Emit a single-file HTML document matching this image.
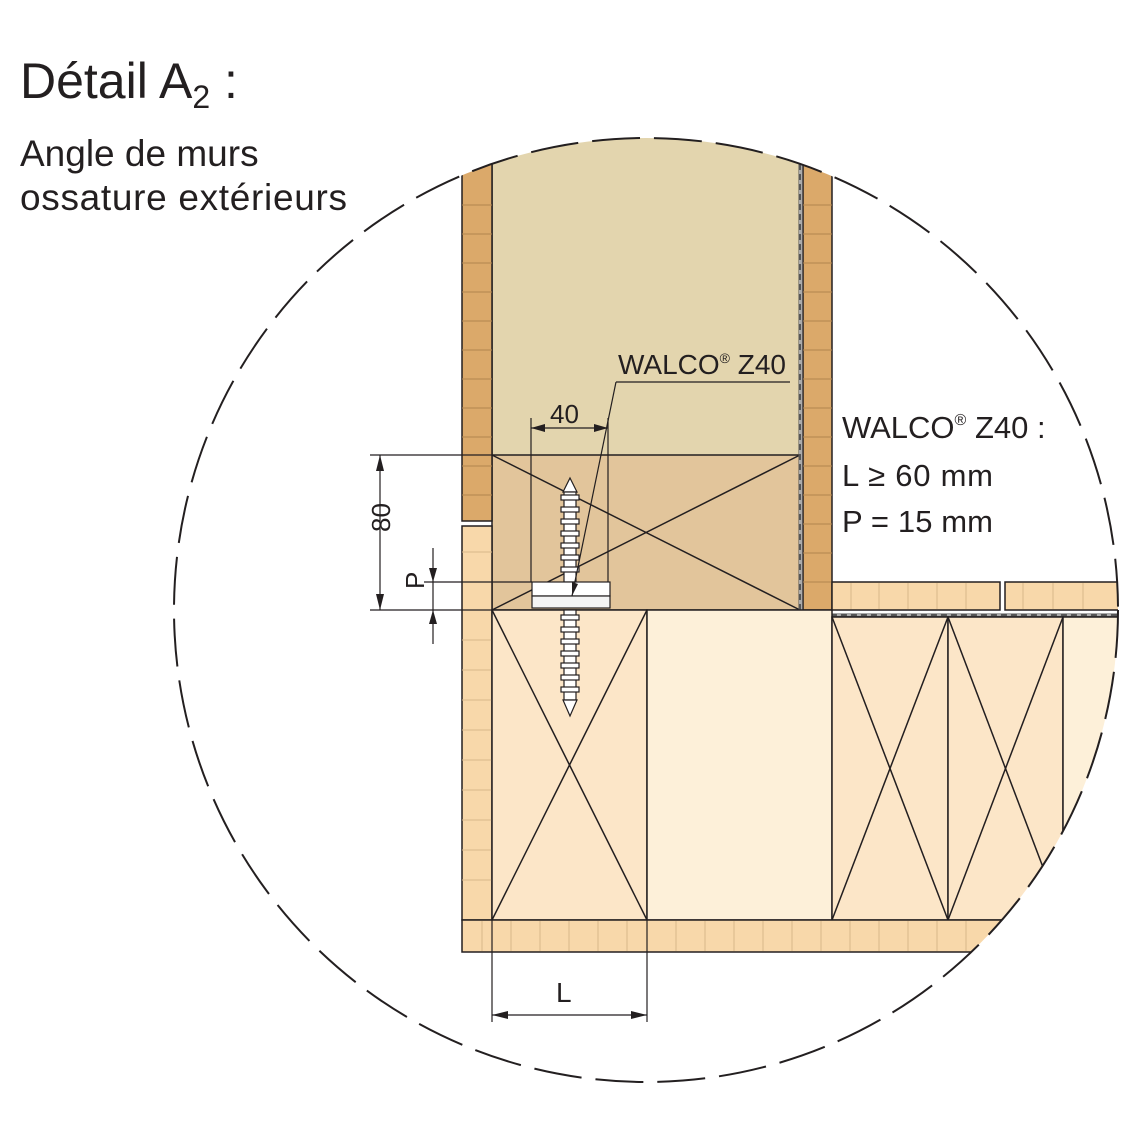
<!DOCTYPE html>
<html><head><meta charset="utf-8"><style>
html,body{margin:0;padding:0;background:#fff;}
svg{display:block;}
text{font-family:"Liberation Sans",sans-serif;fill:#231f20;}
</style></head><body>
<svg width="1140" height="1140" viewBox="0 0 1140 1140" xmlns="http://www.w3.org/2000/svg">
<defs>
<clipPath id="c"><circle cx="646" cy="610" r="472"/></clipPath>
</defs>
<text x="20" y="98" font-size="50">Détail A<tspan font-size="32" dy="10">2</tspan><tspan dy="-10"> :</tspan></text>
<text x="20" y="166" font-size="37">Angle de murs</text>
<text x="20" y="210" font-size="37" textLength="327">ossature extérieurs</text>

<g clip-path="url(#c)" stroke="#231f20" stroke-width="1.5">
<rect x="492" y="100" width="308" height="355" fill="#e3d5ae" stroke="none"/>
<rect x="492" y="455" width="308" height="155" fill="#e2c59b"/>
<line x1="492" y1="455" x2="800" y2="610"/>
<line x1="800" y1="455" x2="492" y2="610"/>
<line x1="492" y1="100" x2="492" y2="455"/>
<rect x="462" y="100" width="30" height="421" fill="#dba96a"/>
<g stroke="#b0854f" stroke-width="1">
<line x1="462" y1="205" x2="492" y2="205"/><line x1="462" y1="234" x2="492" y2="234"/><line x1="462" y1="263" x2="492" y2="263"/><line x1="462" y1="292" x2="492" y2="292"/><line x1="462" y1="321" x2="492" y2="321"/><line x1="462" y1="350" x2="492" y2="350"/><line x1="462" y1="379" x2="492" y2="379"/><line x1="462" y1="408" x2="492" y2="408"/><line x1="462" y1="437" x2="492" y2="437"/><line x1="462" y1="466" x2="492" y2="466"/><line x1="462" y1="495" x2="492" y2="495"/>
</g>
<rect x="462" y="526" width="30" height="394" fill="#f8d8aa"/>
<g stroke="#d9b88a" stroke-width="1">
<line x1="462" y1="552" x2="492" y2="552"/><line x1="462" y1="582" x2="492" y2="582"/><line x1="462" y1="640" x2="492" y2="640"/><line x1="462" y1="670" x2="492" y2="670"/><line x1="462" y1="700" x2="492" y2="700"/><line x1="462" y1="730" x2="492" y2="730"/><line x1="462" y1="760" x2="492" y2="760"/><line x1="462" y1="790" x2="492" y2="790"/><line x1="462" y1="820" x2="492" y2="820"/><line x1="462" y1="850" x2="492" y2="850"/><line x1="462" y1="880" x2="492" y2="880"/>
</g>
<rect x="803" y="100" width="29" height="510" fill="#dba96a"/>
<g stroke="#b0854f" stroke-width="1">
<line x1="803" y1="205" x2="832" y2="205"/><line x1="803" y1="234" x2="832" y2="234"/><line x1="803" y1="263" x2="832" y2="263"/><line x1="803" y1="292" x2="832" y2="292"/><line x1="803" y1="321" x2="832" y2="321"/><line x1="803" y1="350" x2="832" y2="350"/><line x1="803" y1="379" x2="832" y2="379"/><line x1="803" y1="408" x2="832" y2="408"/><line x1="803" y1="437" x2="832" y2="437"/><line x1="803" y1="466" x2="832" y2="466"/><line x1="803" y1="495" x2="832" y2="495"/><line x1="803" y1="524" x2="832" y2="524"/><line x1="803" y1="553" x2="832" y2="553"/><line x1="803" y1="582" x2="832" y2="582"/>
</g>
<path d="M800 100 V610 Q800 615 805 615 H1130" fill="none" stroke="#555" stroke-width="3"/>
<path d="M800 100 V610 Q800 615 805 615 H1130" fill="none" stroke="#fff" stroke-width="1" stroke-dasharray="4 6"/>
<rect x="492" y="610" width="155" height="310" fill="#fce6c8"/>
<line x1="492" y1="610" x2="647" y2="920"/><line x1="647" y1="610" x2="492" y2="920"/>
<rect x="647" y="610" width="185" height="310" fill="#fdf0d9"/>
<rect x="832" y="617" width="116" height="303" fill="#fce6c8"/>
<rect x="948" y="617" width="115" height="303" fill="#fce6c8"/>
<rect x="1063" y="617" width="80" height="303" fill="#fdf0d9"/>
<line x1="832" y1="617" x2="948" y2="920"/><line x1="948" y1="617" x2="832" y2="920"/>
<line x1="948" y1="617" x2="1063" y2="920"/><line x1="1063" y1="617" x2="948" y2="920"/>
<rect x="832" y="582" width="168" height="28" fill="#f8d8aa"/>
<rect x="1005" y="582" width="130" height="28" fill="#f8d8aa"/>
<g stroke="#d9b88a" stroke-width="1">
<line x1="851" y1="583" x2="851" y2="609"/><line x1="879" y1="583" x2="879" y2="609"/><line x1="908" y1="583" x2="908" y2="609"/><line x1="937" y1="583" x2="937" y2="609"/><line x1="966" y1="583" x2="966" y2="609"/><line x1="1023" y1="583" x2="1023" y2="609"/><line x1="1053" y1="583" x2="1053" y2="609"/><line x1="1083" y1="583" x2="1083" y2="609"/>
</g>
<rect x="462" y="920" width="700" height="32" fill="#f8d8aa"/>
<g stroke="#d9b88a" stroke-width="1">
<line x1="482" y1="921" x2="482" y2="951"/><line x1="511" y1="921" x2="511" y2="951"/><line x1="540" y1="921" x2="540" y2="951"/><line x1="569" y1="921" x2="569" y2="951"/><line x1="598" y1="921" x2="598" y2="951"/><line x1="627" y1="921" x2="627" y2="951"/><line x1="676" y1="921" x2="676" y2="951"/><line x1="705" y1="921" x2="705" y2="951"/><line x1="734" y1="921" x2="734" y2="951"/><line x1="763" y1="921" x2="763" y2="951"/><line x1="792" y1="921" x2="792" y2="951"/><line x1="821" y1="921" x2="821" y2="951"/><line x1="850" y1="921" x2="850" y2="951"/><line x1="879" y1="921" x2="879" y2="951"/><line x1="908" y1="921" x2="908" y2="951"/><line x1="937" y1="921" x2="937" y2="951"/><line x1="966" y1="921" x2="966" y2="951"/>
</g>
</g>
<circle cx="646" cy="610" r="472" fill="none" stroke="#231f20" stroke-width="2" stroke-dasharray="48 14"/>

<g stroke="#231f20" stroke-width="1.2">
<path d="M570 478 L577 492 L563 492 Z" fill="#fff"/>
<rect x="564" y="492" width="12" height="90" fill="#fff"/>
<g fill="#fff">
<rect x="561" y="495" width="18" height="5"/><rect x="561" y="507" width="18" height="5"/><rect x="561" y="519" width="18" height="5"/><rect x="561" y="531" width="18" height="5"/><rect x="561" y="543" width="18" height="5"/><rect x="561" y="555" width="18" height="5"/><rect x="561" y="567" width="18" height="5"/>
</g>
<rect x="532" y="582" width="78" height="14" fill="#fff"/>
<rect x="532" y="596" width="78" height="12" fill="#f4f4f4"/>
<rect x="564" y="610" width="12" height="90" fill="#fff"/>
<g fill="#fff">
<rect x="561" y="615" width="18" height="5"/><rect x="561" y="627" width="18" height="5"/><rect x="561" y="639" width="18" height="5"/><rect x="561" y="651" width="18" height="5"/><rect x="561" y="663" width="18" height="5"/><rect x="561" y="675" width="18" height="5"/><rect x="561" y="687" width="18" height="5"/>
</g>
<path d="M563 700 L577 700 L570 716 Z" fill="#fff"/>
</g>

<g stroke="#231f20" stroke-width="1.2" fill="none">
<line x1="370" y1="455" x2="492" y2="455"/>
<line x1="370" y1="610" x2="492" y2="610"/>
<line x1="380" y1="455" x2="380" y2="610"/>
<line x1="424" y1="582" x2="532" y2="582"/>
<line x1="433" y1="548" x2="433" y2="644"/>
<line x1="531" y1="418" x2="531" y2="582"/>
<line x1="608" y1="418" x2="608" y2="582"/>
<line x1="531" y1="428" x2="608" y2="428"/>
<line x1="492" y1="920" x2="492" y2="1022"/>
<line x1="647" y1="920" x2="647" y2="1022"/>
<line x1="492" y1="1015" x2="647" y2="1015"/>
<polyline points="616,382 790,382"/>
<line x1="616" y1="382" x2="572" y2="596"/>
</g>
<g fill="#231f20">
<path d="M380 455 l-4 16 h8z"/><path d="M380 610 l-4 -16 h8z"/>
<path d="M433 582 l-4 -14 h8z"/><path d="M433 610 l-4 14 h8z"/>
<path d="M531 428 l14 -4 v8z"/><path d="M608 428 l-14 -4 v8z"/>
<path d="M492 1015 l16 -4 v8z"/><path d="M647 1015 l-16 -4 v8z"/>
<path d="M572 596 l0 -14 l6 2z"/>
</g>
<text x="550" y="423" font-size="26">40</text>
<text x="374" y="548" font-size="26" transform="rotate(-90 374 532)">80</text>
<text x="425" y="602" font-size="26" transform="rotate(-90 418 596)">P</text>
<text x="556" y="1002" font-size="28">L</text>
<text x="618" y="374" font-size="28">WALCO<tspan font-size="14" dy="-11">®</tspan><tspan dy="11"> Z40</tspan></text>
<text x="842" y="438" font-size="31">WALCO<tspan font-size="16" dy="-13">®</tspan><tspan dy="13"> Z40 :</tspan></text>
<text x="842" y="486" font-size="31" textLength="151">L ≥ 60 mm</text>
<text x="842" y="532" font-size="31" textLength="151">P = 15 mm</text>
</svg>
</body></html>
